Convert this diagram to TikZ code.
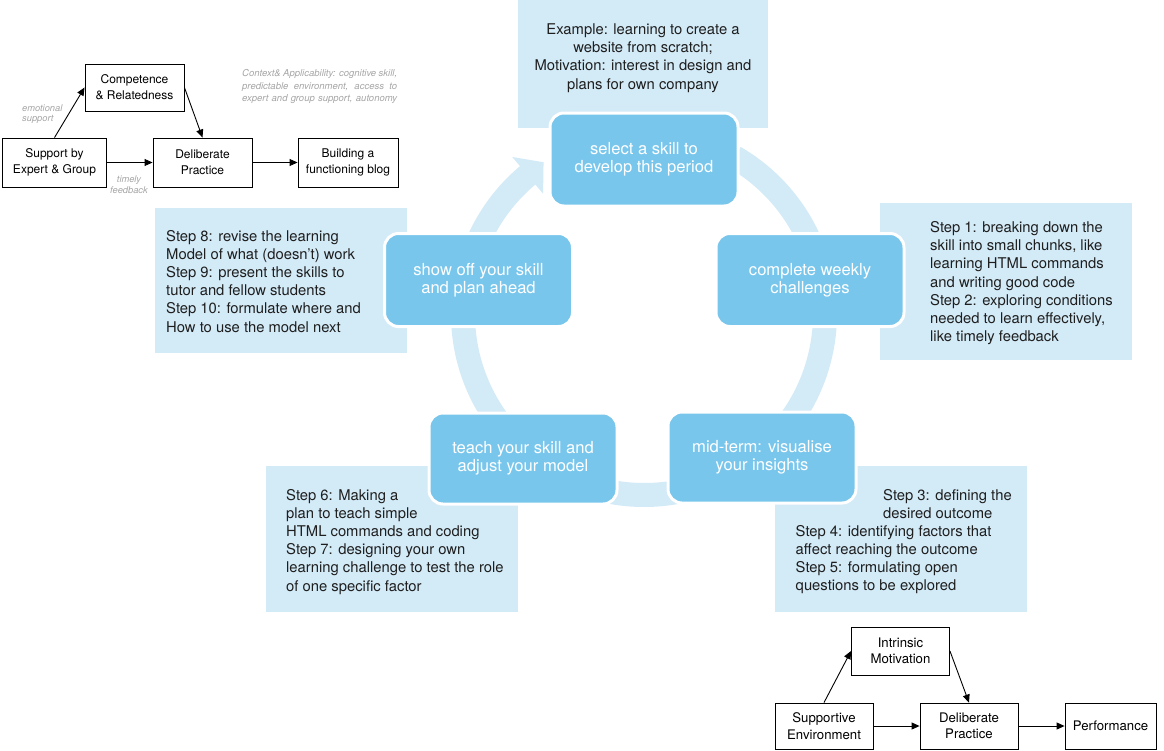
\documentclass[tikz,border=0pt]{standalone}
\usepackage{fontspec}
\setmainfont{TeX Gyre Heros}
\usetikzlibrary{arrows.meta}
\definecolor{lightbox}{HTML}{D3EAF7}
\definecolor{bluebox}{HTML}{79C6EC}
\definecolor{ringcol}{HTML}{D3EAF7}
\definecolor{notecol}{HTML}{A5A5A5}
\definecolor{txtcol}{HTML}{1E1E1E}
\begin{document}
\begin{tikzpicture}[x=1pt,y=-1pt,
  lightbg/.style={fill=lightbox, draw=none, inner sep=0pt, outer sep=0pt},
  cyclebox/.style={fill=bluebox, draw=white, line width=3pt, rounded corners=14pt,
    text=white, font=\fontsize{16.6}{18.3}\selectfont, align=center,
    minimum width=188pt, minimum height=93pt, inner sep=0pt},
  steptext/.style={text=txtcol, font=\fontsize{14.8}{18.2}\selectfont, inner sep=0pt},
  smallbox/.style={draw=black, line width=0.9pt, fill=white, align=center, inner sep=0pt},
  tlfont/.style={font=\fontsize{12}{15.8}\selectfont},
  brfont/.style={font=\fontsize{13.2}{16.5}\selectfont},
  flow/.style={-{Triangle[length=8pt,width=7pt]}, line width=0.9pt},
  notetext/.style={text=notecol, inner sep=0pt}
]
\useasboundingbox (0,0) rectangle (1164,750);

% light blue text panels
\node[lightbg, anchor=north west, minimum width=250pt, minimum height=128pt] (p0) at (518,0) {};
\node[lightbg, anchor=north west, minimum width=252pt, minimum height=145pt] (p8) at (155,208) {};
\node[lightbg, anchor=north west, minimum width=252pt, minimum height=157pt] (p1) at (880,203) {};
\node[lightbg, anchor=north west, minimum width=252pt, minimum height=146pt] (p6) at (266,466) {};
\node[lightbg, anchor=north west, minimum width=252pt, minimum height=146pt] (p3) at (775,466) {};

% (anchor=base puts the LAST line's baseline at the given point)
\node[steptext, anchor=base, align=center] (t0) at (643,89.1)
  {Example: learning to create a\\website from scratch;\\Motivation: interest in design and\\plans for own company};
\node[steptext, anchor=base west, align=left] (t8) at (166,332)
  {Step 8: revise the learning\\Model of what (doesn’t) work\\Step 9: present the skills to\\tutor and fellow students\\Step 10: formulate where and\\How to use the model next};
\node[steptext, anchor=base west, align=left] (t1) at (930,341.7)
  {Step 1: breaking down the\\skill into small chunks, like\\learning HTML commands\\and writing good code\\Step 2: exploring conditions\\needed to learn effectively,\\like timely feedback};
\node[steptext, anchor=base west, align=left] (t6) at (286,591)
  {Step 6: Making a\\plan to teach simple\\HTML commands and coding\\Step 7: designing your own\\learning challenge to test the role\\of one specific factor};
\node[steptext, anchor=base west, align=left] (t3) at (883,518.2)
  {Step 3: defining the\\desired outcome};
\node[steptext, anchor=base west, align=left] (t4) at (795.5,590.6)
  {Step 4: identifying factors that\\affect reaching the outcome\\Step 5: formulating open\\questions to be explored};

% cycle ring with arrow head
\coordinate (cen) at (644,314);
\draw[ringcol, line width=24pt] (cen) ++(-129.5:181) arc[start angle=-129.5, end angle=-420, radius=181];
\path (cen) ++(-130:205) coordinate (h1);
\path (cen) ++(-123.5:182) coordinate (h2);
\path (cen) ++(-130:157) coordinate (h3);
\fill[ringcol] (h1) -- (h2) -- (h3) -- cycle;

% cycle boxes
\node[cyclebox] (c1) at (644,159.5) {select a skill to\\develop this period};
\node[cyclebox] (c2) at (810,280) {complete weekly\\challenges};
\node[cyclebox, minimum height=91pt] (c3) at (762,457.5) {mid-term: visualise\\your insights};
\node[cyclebox, minimum height=91pt] (c4) at (523,458.5) {teach your skill and\\adjust your model};
\node[cyclebox] (c5) at (478.5,280) {show off your skill\\and plan ahead};

% top-left model
\node[smallbox, tlfont, minimum width=99pt, minimum height=47pt] (comp) at (134.5,87.5) {Competence\\\& Relatedness};
\node[smallbox, tlfont, minimum width=104pt, minimum height=49pt] (supp) at (54.5,162.5) {Support by\\Expert \& Group};
\node[smallbox, tlfont, minimum width=99pt, minimum height=49pt] (delib) at (202.5,162.5) {Deliberate\\Practice};
\node[smallbox, tlfont, minimum width=100pt, minimum height=49pt] (build) at (348,162.5) {Building a\\functioning blog};
\draw[flow] (supp.north) -- (comp.west);
\draw[flow] (comp.east) -- (delib.north);
\draw[flow] (supp.east) -- (delib.west);
\draw[flow] (delib.east) -- (build.west);
\node[notetext, anchor=base west, align=left, font=\itshape\fontsize{9.3}{10.6}\selectfont] (emo) at (22,121.6) {emotional\\support};
\node[notetext, anchor=base, align=center, font=\itshape\fontsize{9.3}{11}\selectfont] (tfb) at (129,193) {timely\\feedback};
\node[notetext, anchor=base west, align=left, font=\itshape\fontsize{9.5}{12.5}\selectfont] (ctx) at (242,101.5)
  {\makebox[155pt][s]{Context\& Applicability: cognitive skill,}\\
   \makebox[155pt][s]{predictable environment, access to}\\
   \makebox[155pt][s]{expert and group support, autonomy}};

% bottom-right model
\node[smallbox, brfont, minimum width=98pt, minimum height=48pt] (intr) at (900.5,651) {Intrinsic\\Motivation};
\node[smallbox, brfont, minimum width=98pt, minimum height=46pt] (supe) at (824,726) {Supportive\\Environment};
\node[smallbox, brfont, minimum width=98pt, minimum height=46pt] (delib2) at (969,726) {Deliberate\\Practice};
\node[smallbox, brfont, minimum width=91pt, minimum height=46pt] (perf) at (1110.5,726) {Performance};
\draw[flow] (supe.north) -- (intr.west);
\draw[flow] (intr.east) -- (delib2.north);
\draw[flow] (supe.east) -- (delib2.west);
\draw[flow] (delib2.east) -- (perf.west);
\end{tikzpicture}
\end{document}
